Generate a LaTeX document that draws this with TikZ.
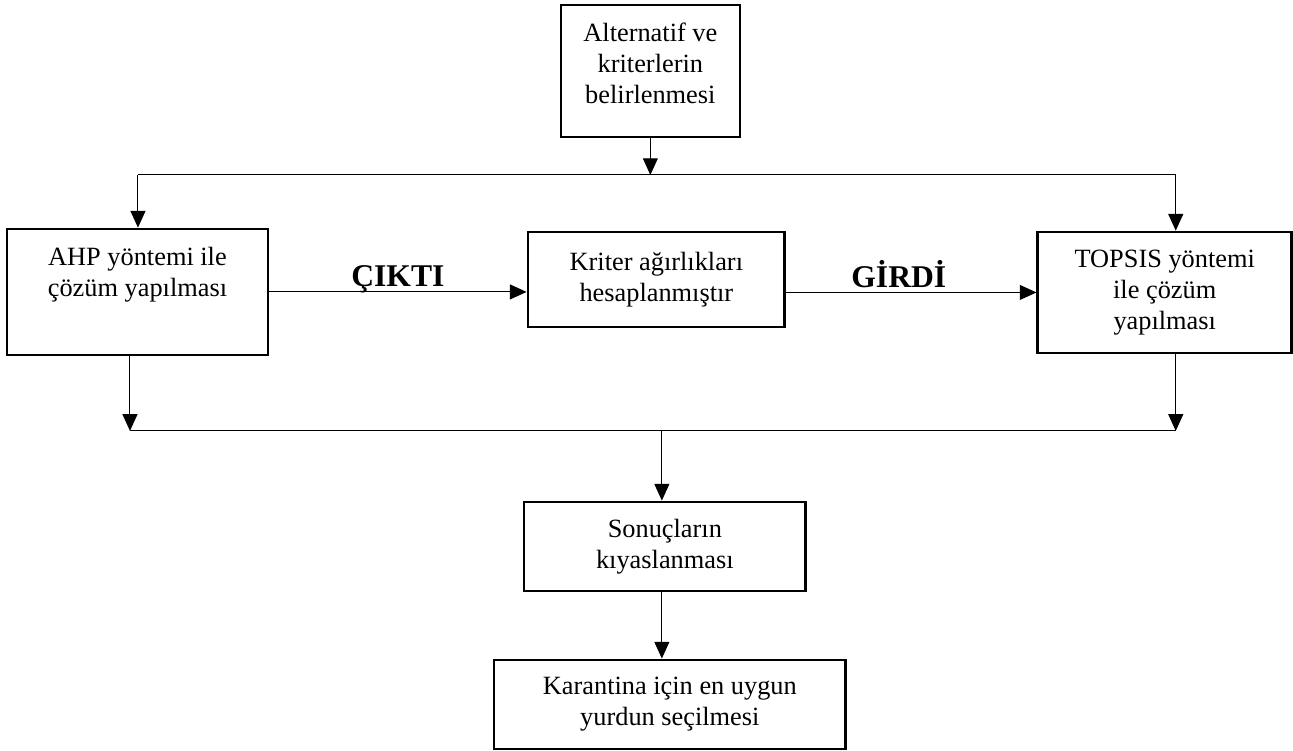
\documentclass[tikz,border=0pt]{standalone}
\usepackage{fontspec}
\setmainfont{Liberation Serif}
\usetikzlibrary{arrows.meta}

\begin{document}
\begin{tikzpicture}[x=0.02cm, y=-0.02cm,
    box/.style={draw, line width=1.5pt, align=center, inner sep=2pt,
      font=\fontsize{15pt}{17.5pt}\selectfont},
    flow/.style={line width=0.6pt, -{Triangle[length=9.5pt,width=8.5pt]}},
    lbl/.style={font=\fontsize{18pt}{20pt}\selectfont\bfseries, anchor=base, yshift=3pt}]
  \fill[white] (0,0) rectangle (1293,751);

  \node[box, minimum width=3.58cm, minimum height=2.64cm] (alt) at (650.5,71)
    {Alternatif ve\\ kriterlerin\\ belirlenmesi\rule[-9pt]{0pt}{9pt}};
  \node[box, minimum width=5.22cm, minimum height=2.52cm] (ahp) at (137.5,292)
    {AHP yöntemi ile\\ çözüm yapılması\\ \strut};
  \node[box, minimum width=5.14cm, minimum height=1.90cm] (krit) at (656.5,279.5)
    {Kriter ağırlıkları\\ hesaplanmıştır};
  \node[box, minimum width=5.08cm, minimum height=2.42cm] (topsis) at (1165,292.5)
    {TOPSIS yöntemi\\ ile çözüm\\ yapılması};
  \node[box, minimum width=5.64cm, minimum height=1.78cm] (son) at (665,546.5)
    {Sonuçların\\ kıyaslanması};
  \node[box, minimum width=7.04cm, minimum height=1.78cm] (kar) at (670,704.5)
    {Karantina için en uygun\\ yurdun seçilmesi};

  % junctions
  \coordinate (tl) at (138,175);
  \coordinate (tr) at (1176,175);
  \coordinate (bl) at (130,431);
  \coordinate (br) at (1176,431);
  \coordinate (bm) at (662,431);

  \draw[flow] (alt.south) -- (alt.south |- tl);
  \draw[line width=0.6pt] (tl) -- (tr);
  \draw[flow] (tl) -- (ahp.north -| tl);
  \draw[flow] (tr) -- (topsis.north -| tr);

  \draw[flow] (ahp.east) -- node[lbl] {ÇIKTI} (krit.west |- ahp.east);
  \draw[flow] (krit.east |- topsis.west) -- node[lbl, pos=.45] {GİRDİ} (topsis.west);

  \draw[flow] (ahp.south -| bl) -- (bl);
  \draw[flow] (topsis.south -| br) -- (br);
  \draw[line width=0.6pt] (bl) -- (br);
  \draw[flow] (bm) -- (son.north -| bm);
  \draw[flow] (son.south -| bm) -- (kar.north -| bm);
\end{tikzpicture}
\end{document}
